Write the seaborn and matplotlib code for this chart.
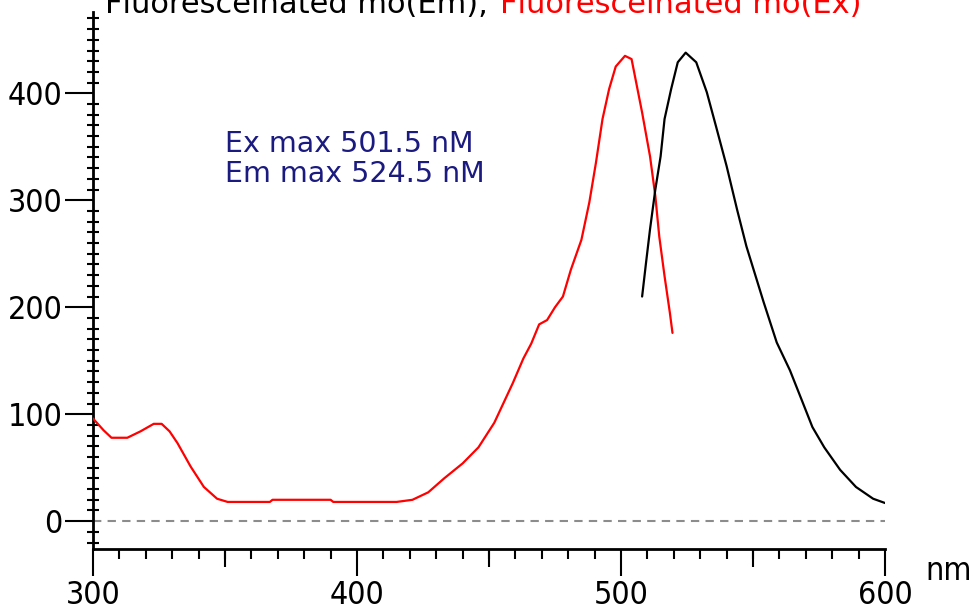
import matplotlib
matplotlib.use("Agg")
import matplotlib.pyplot as plt
import seaborn as sns
from matplotlib.ticker import MultipleLocator, NullFormatter

# excitation spectrum (red)
ex_nm = [300, 304, 307, 313, 318, 323, 326, 329, 332, 337, 342, 347, 351, 367, 368,
         390, 391, 415, 421, 427, 433, 440, 446, 452, 459, 463, 466, 469, 472, 475,
         478, 481, 485, 488, 490.5, 493, 495.5, 498, 501.5, 504, 506, 508, 511, 513,
         514.5, 516.5, 518.5, 519.5]
ex_int = [96, 85, 78, 78, 84, 91, 91, 84, 73, 51, 32, 21, 18, 18, 20,
          20, 18, 18, 20, 27, 40, 54, 69, 92, 129, 152, 166, 184, 188, 200,
          210, 235, 263, 298, 335, 376, 404, 425, 435, 432, 407, 382, 341, 304,
          266, 229, 195, 176]

# emission spectrum (black)
em_nm = [508, 509.5, 511, 513, 515, 516.5, 519, 521.5, 524.5, 528.5, 532.5, 536, 540,
         544, 547.5, 551, 554, 559, 564, 568.5, 572.5, 577, 583, 589, 595.5, 600]
em_int = [210, 242, 273, 310, 341, 376, 404, 429, 438, 429, 401, 369, 332,
          291, 257, 229, 205, 167, 141, 113, 88, 69, 48, 32, 21, 17]

title_em = "Fluoresceinated mo(Em), "
title_ex = "Fluoresceinated mo(Ex)"
note_lines = ["Ex max 501.5 nM", "Em max 524.5 nM"]

sns.set_style("ticks")
plt.rcParams["text.color"] = "black"
plt.rcParams["xtick.color"] = "black"
plt.rcParams["ytick.color"] = "black"

fig = plt.figure(figsize=(9.78, 6.13), dpi=100)
ax = fig.add_axes([93 / 978, 1 - 549 / 613, (885 - 93) / 978, (549 - 12) / 613])

ax.axhline(0, color="#8c8c8c", ls=(0, (4, 3)), lw=1.5, zorder=1)
sns.lineplot(x=ex_nm, y=ex_int, color="#ff0000", lw=1.6, sort=False, ax=ax, zorder=3)
sns.lineplot(x=em_nm, y=em_int, color="black", lw=1.6, sort=False, ax=ax, zorder=3)

ax.set_xlim(300, 600)
ax.set_ylim(-26, 476)
for s in ["top", "right"]:
    ax.spines[s].set_visible(False)
for s in ["left", "bottom"]:
    ax.spines[s].set_linewidth(2)
    ax.spines[s].set_color("black")

ax.xaxis.set_major_locator(MultipleLocator(100))
ax.xaxis.set_minor_locator(MultipleLocator(10))
ax.yaxis.set_major_locator(MultipleLocator(100))
ax.yaxis.set_minor_locator(MultipleLocator(10))
ax.tick_params(axis="x", which="both", bottom=True, top=False)
ax.tick_params(axis="y", which="both", left=True, right=False)
ax.tick_params(axis="x", which="major", direction="out", length=19.5, width=1.5,
               pad=3, labelsize=23, labelcolor="black")
ax.tick_params(axis="x", which="minor", direction="out", length=7.2, width=1.5)
ax.tick_params(axis="y", which="major", direction="out", length=20, width=1.5,
               pad=2, labelsize=23, labelcolor="black")
ax.tick_params(axis="y", which="minor", direction="inout", length=8.6, width=1.5)
ax.set_xlabel("")
ax.set_ylabel("")
for lab in ax.get_xticklabels() + ax.get_yticklabels():
    lab.set_family("DejaVu Sans")
    lab.set_stretch("condensed")

# mid-length ticks at the 50s
sec = ax.secondary_xaxis("bottom")
sec.set_xticks([350, 450, 550])
sec.xaxis.set_major_formatter(NullFormatter())
sec.tick_params(axis="x", direction="out", length=13, width=1.5, color="black")
sec.spines["bottom"].set_visible(False)

ax.text(1.08, -0.042, "nm", transform=ax.transAxes, fontsize=23,
        family="DejaVu Sans", stretch="condensed", ha="center", va="center")

ax.text(350, 345, note_lines[0], color="#1a1a80", fontsize=20.5, family="DejaVu Sans")
ax.text(350, 317, note_lines[1], color="#1a1a80", fontsize=20.5, family="DejaVu Sans")

fig.text(105 / 978, 1 - 13 / 613, title_em, color="black", fontsize=22,
         family="DejaVu Sans", va="baseline", ha="left")
fig.text(500 / 978, 1 - 13 / 613, title_ex, color="#ff0000", fontsize=22,
         family="DejaVu Sans", va="baseline", ha="left")

fig.savefig("out.png", dpi=100)
